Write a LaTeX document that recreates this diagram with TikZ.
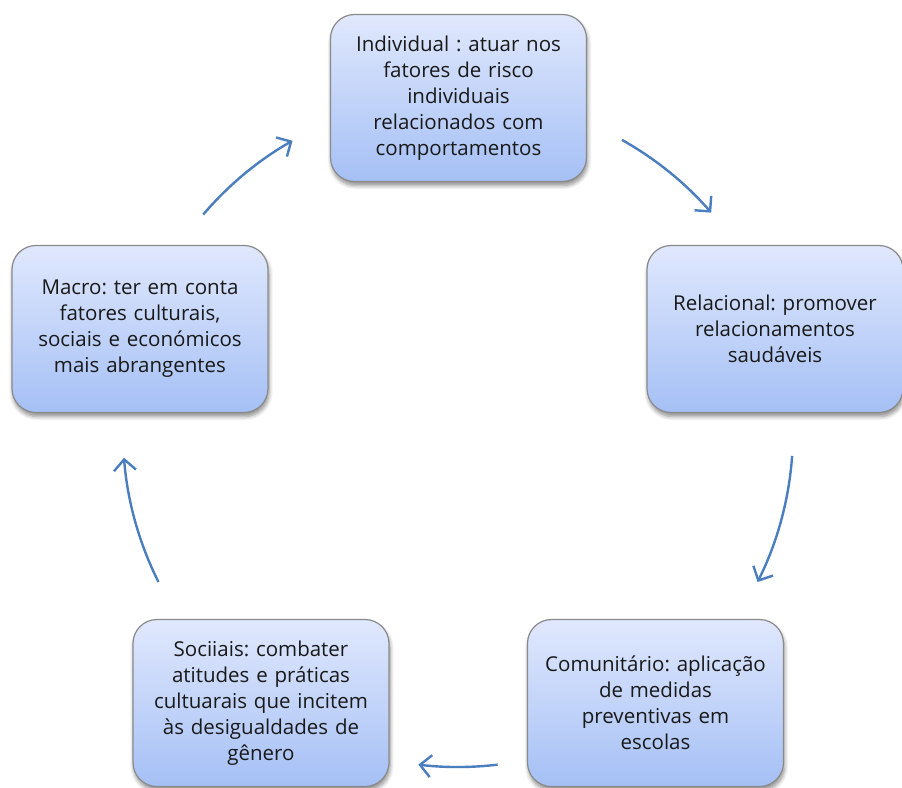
\documentclass[tikz,border=0pt]{standalone}
\usepackage{fontspec}
\setmainfont{Open Sans}
\usetikzlibrary{arrows.meta,calc,shadows.blur}
\definecolor{boxtop}{HTML}{E0E8FD}
\definecolor{boxbot}{HTML}{A5C0F5}
\definecolor{boxline}{HTML}{8A8A8A}
\definecolor{arrowblue}{HTML}{4A7EBF}
\tikzset{
  stage/.style={
    draw=boxline, line width=1.2pt, rounded corners=24pt,
    top color=boxtop, bottom color=boxbot,
    minimum width=256pt, minimum height=167pt,
    align=center, text width=246pt,
    font=\fontsize{20.5}{26}\selectfont\frenchspacing, text=black!90,
    blur shadow={shadow xshift=1pt, shadow yshift=-4pt, shadow opacity=45, shadow blur steps=6, shadow blur radius=4pt}
  },
  cyclearrow/.style={
    draw=arrowblue, line width=2.4pt,
    -{Straight Barb[length=11pt,width=22pt,line width=2.4pt]}
  }
}
\begin{document}
\begin{tikzpicture}[x=1pt,y=-1pt]
  \useasboundingbox (0,0) rectangle (902,787);
  \coordinate (hub) at (458,432);

  \node[stage] (indiv) at (458.5,98)
    {Individual : atuar nos\\fatores de risco\\individuais\\relacionados com\\comportamentos};
  \node[stage] (relac) at (775,329)
    {Relacional: promover\\relacionamentos\\saudáveis};
  \node[stage] (comun) at (655.5,703)
    {Comunitário: aplicação\\de medidas\\preventivas em\\escolas};
  \node[stage] (socia) at (261,703)
    {Sociiais: combater\\atitudes e práticas\\cultuarais que incitem\\às desigualdades de\\gênero};
  \node[stage] (macro) at (140,329)
    {Macro: ter em conta\\fatores culturais,\\sociais e económicos\\mais abrangentes};

  % arcs of the cycle, all on one circle round the hub
  \coordinate (a1) at ($(hub)+(-60.7:335)$);
  \coordinate (a2) at ($(hub)+(4.1:335)$);
  \coordinate (a3) at ($(hub)+(83.2:335)$);
  \coordinate (a4) at ($(hub)+(153.4:335)$);
  \coordinate (a5) at ($(hub)+(220.5:335)$);
  \draw[cyclearrow] (a1) arc[start angle=-60.7, end angle=-40.9, radius=335];
  \draw[cyclearrow] (a2) arc[start angle=4.1, end angle=26.6, radius=335];
  \draw[cyclearrow] (a3) arc[start angle=83.2, end angle=96.8, radius=335];
  \draw[cyclearrow] (a4) arc[start angle=153.4, end angle=175.6, radius=335];
  \draw[cyclearrow] (a5) arc[start angle=220.5, end angle=240.4, radius=335];
\end{tikzpicture}
\end{document}
